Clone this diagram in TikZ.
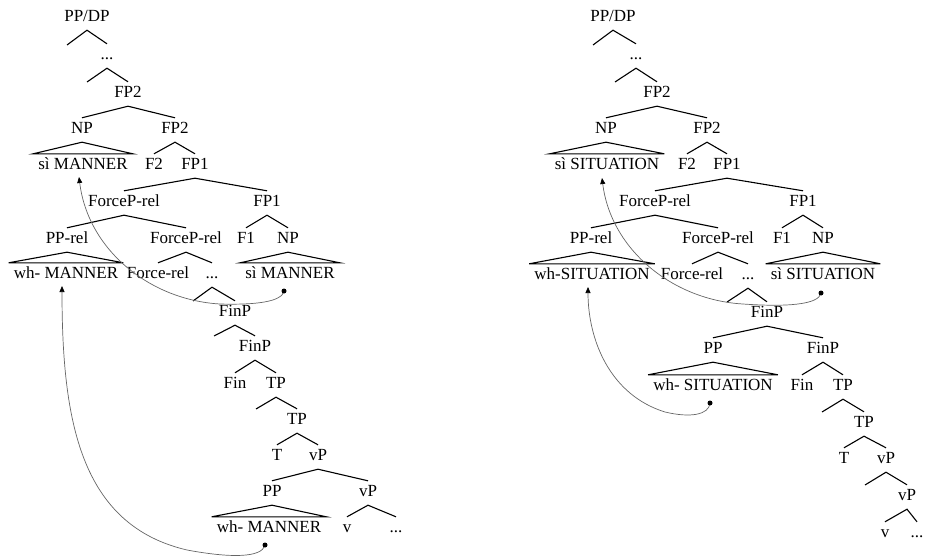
\documentclass[tikz,border=0pt]{standalone}
\usepackage{fontspec}
\setmainfont{Liberation Serif}
\usetikzlibrary{arrows.meta}
\tikzset{
  lab/.style={font=\fontsize{17}{20}\selectfont, inner xsep=1pt, inner ysep=4pt,
    text height=11.6pt, text depth=4.4pt, anchor=base, yshift=-5.6pt},
  tri/.style={lab, inner xsep=5pt},
  br/.style={line width=1.1pt, black, line join=miter},
  mv/.style={line width=0.7pt, black!60, -{Triangle[length=6pt,width=5pt,color=black]}},
  dotend/.style={fill=black},
}
\begin{document}
\begin{tikzpicture}[x=1pt,y=-1pt]
\useasboundingbox (0,0) rectangle (926,559);
% ---------------- Left tree ----------------
\node[lab] (L0) at (87,16) {PP/DP};
\node[lab] (L1) at (107,54) {...};
\node[lab] (L2) at (128,92) {FP2};
\node[lab] (L3a) at (82,128) {NP};
\node[lab] (L3b) at (175,128) {FP2};
\node[tri] (L4a) at (83,164) {sì MANNER};
\node[lab] (L4b) at (154,164) {F2};
\node[lab] (L4c) at (195,164) {FP1};
\node[lab] (L5a) at (124,201) {ForceP-rel};
\node[lab] (L5b) at (267,201) {FP1};
\node[lab] (L6a) at (67,238) {PP-rel};
\node[lab] (L6b) at (186,238) {ForceP-rel};
\node[lab] (L6c) at (246,238) {F1};
\node[lab] (L6d) at (288,238) {NP};
\node[tri] (L7a) at (66,273) {wh- MANNER};
\node[lab] (L7b) at (158,273) {Force-rel};
\node[lab] (L7c) at (212,273) {...};
\node[tri] (L7d) at (290,273) {sì MANNER};
\node[lab] (L8) at (235,311) {FinP};
\node[lab] (L9) at (255,346) {FinP};
\node[lab] (L10a) at (235,383) {Fin};
\node[lab] (L10b) at (276,383) {TP};
\node[lab] (L11) at (297,419) {TP};
\node[lab] (L12a) at (277,455) {T};
\node[lab] (L12b) at (318,455) {vP};
\node[lab] (L13a) at (272,491) {PP};
\node[lab] (L13b) at (368,491) {vP};
\node[tri] (L14a) at (269,527) {wh- MANNER};
\node[lab] (L14b) at (347,527) {v};
\node[lab] (L14c) at (396,527) {...};
\coordinate (L0x) at (67,45);
\coordinate (L1x) at (87,82);
\coordinate (L7x) at (193,301);
\coordinate (L8x) at (214,336);
\coordinate (L10x) at (256,409);

\draw[br] (L0x) -- (L0.south) -- (L1.north);
\draw[br] (L1x) -- (L1.south) -- (L2.north);
\draw[br] (L3a.north) -- (L2.south) -- (L3b.north);
\draw[br] (L3a.south) -- (L4a.north west) -- (L4a.north east) -- cycle;
\draw[br] (L4b.north) -- (L3b.south) -- (L4c.north);
\draw[br] (L5a.north) -- (L4c.south) -- (L5b.north);
\draw[br] (L6a.north) -- (L5a.south) -- (L6b.north);
\draw[br] (L6c.north) -- (L5b.south) -- (L6d.north);
\draw[br] (L6a.south) -- (L7a.north west) -- (L7a.north east) -- cycle;
\draw[br] (L7b.north) -- (L6b.south) -- (L7c.north);
\draw[br] (L6d.south) -- (L7d.north west) -- (L7d.north east) -- cycle;
\draw[br] (L7x) -- (L7c.south) -- (L8.north);
\draw[br] (L8x) -- (L8.south) -- (L9.north);
\draw[br] (L10a.north) -- (L9.south) -- (L10b.north);
\draw[br] (L10x) -- (L10b.south) -- (L11.north);
\draw[br] (L12a.north) -- (L11.south) -- (L12b.north);
\draw[br] (L13a.north) -- (L12b.south) -- (L13b.north);
\draw[br] (L13a.south) -- (L14a.north west) -- (L14a.north east) -- cycle;
\draw[br] (L14b.north) -- (L13b.south) -- (L14c.north);

% movement arrows (left)
\coordinate (d1) at (284,291);
\coordinate (t1) at (79,177);
\coordinate (d2) at (265,545);
\coordinate (t2) at (62,286);
\draw[mv] (d1) .. controls (282,302) and (255,305) .. (220,304)
               .. controls (150,300) and (88,250) .. (t1);
\draw[mv] (d2) .. controls (262,558) and (230,558) .. (187,550)
               .. controls (80,525) and (62,420) .. (t2);
\fill[dotend] (d1) circle (2.5pt);
\fill[dotend] (d2) circle (2.5pt);

% ---------------- Right tree ----------------
\node[lab] (R0) at (613,16) {PP/DP};
\node[lab] (R1) at (636,54) {...};
\node[lab] (R2) at (657,92) {FP2};
\node[lab] (R3a) at (606,128) {NP};
\node[lab] (R3b) at (707,128) {FP2};
\node[tri] (R4a) at (607,164) {sì SITUATION};
\node[lab] (R4b) at (687,164) {F2};
\node[lab] (R4c) at (727,164) {FP1};
\node[lab] (R5a) at (655,201) {ForceP-rel};
\node[lab] (R5b) at (803,201) {FP1};
\node[lab] (R6a) at (591,238) {PP-rel};
\node[lab] (R6b) at (718,238) {ForceP-rel};
\node[lab] (R6c) at (782,238) {F1};
\node[lab] (R6d) at (823,238) {NP};
\node[tri] (R7a) at (592,274) {wh-SITUATION};
\node[lab] (R7b) at (692,274) {Force-rel};
\node[lab] (R7c) at (748,274) {...};
\node[tri] (R7d) at (823,274) {sì SITUATION};
\node[lab] (R8) at (767,312) {FinP};
\node[lab] (R9a) at (713,348) {PP};
\node[lab] (R9b) at (823,348) {FinP};
\node[tri] (R10a) at (713,385) {wh- SITUATION};
\node[lab] (R10b) at (802,385) {Fin};
\node[lab] (R10c) at (843,385) {TP};
\node[lab] (R11) at (864,422) {TP};
\node[lab] (R12a) at (844,458) {T};
\node[lab] (R12b) at (886,458) {vP};
\node[lab] (R13) at (907,495) {vP};
\node[lab] (R14a) at (885,532) {v};
\node[lab] (R14b) at (917,532) {...};
\coordinate (R0x) at (593,45);
\coordinate (R1x) at (615,82);
\coordinate (R7x) at (727,302);
\coordinate (R10x) at (822,412);
\coordinate (R12x) at (865,485);

\draw[br] (R0x) -- (R0.south) -- (R1.north);
\draw[br] (R1x) -- (R1.south) -- (R2.north);
\draw[br] (R3a.north) -- (R2.south) -- (R3b.north);
\draw[br] (R3a.south) -- (R4a.north west) -- (R4a.north east) -- cycle;
\draw[br] (R4b.north) -- (R3b.south) -- (R4c.north);
\draw[br] (R5a.north) -- (R4c.south) -- (R5b.north);
\draw[br] (R6a.north) -- (R5a.south) -- (R6b.north);
\draw[br] (R6c.north) -- (R5b.south) -- (R6d.north);
\draw[br] (R6a.south) -- (R7a.north west) -- (R7a.north east) -- cycle;
\draw[br] (R7b.north) -- (R6b.south) -- (R7c.north);
\draw[br] (R6d.south) -- (R7d.north west) -- (R7d.north east) -- cycle;
\draw[br] (R7x) -- (R7c.south) -- (R8.north);
\draw[br] (R9a.north) -- (R8.south) -- (R9b.north);
\draw[br] (R9a.south) -- (R10a.north west) -- (R10a.north east) -- cycle;
\draw[br] (R10b.north) -- (R9b.south) -- (R10c.north);
\draw[br] (R10x) -- (R10c.south) -- (R11.north);
\draw[br] (R12a.north) -- (R11.south) -- (R12b.north);
\draw[br] (R12x) -- (R12b.south) -- (R13.north);
\draw[br] (R14a.north) -- (R13.south) -- (R14b.north);

% movement arrows (right)
\coordinate (d3) at (821,293);
\coordinate (t3) at (602,178);
\coordinate (d4) at (710,403);
\coordinate (t4) at (588,287);
\draw[mv] (d3) .. controls (819,305) and (785,307) .. (743,304)
               .. controls (673,300) and (611,250) .. (t3);
\draw[mv] (d4) .. controls (709,415) and (690,418) .. (665,412)
               .. controls (610,395) and (588,340) .. (t4);
\fill[dotend] (d3) circle (2.5pt);
\fill[dotend] (d4) circle (2.5pt);
\end{tikzpicture}
\end{document}
